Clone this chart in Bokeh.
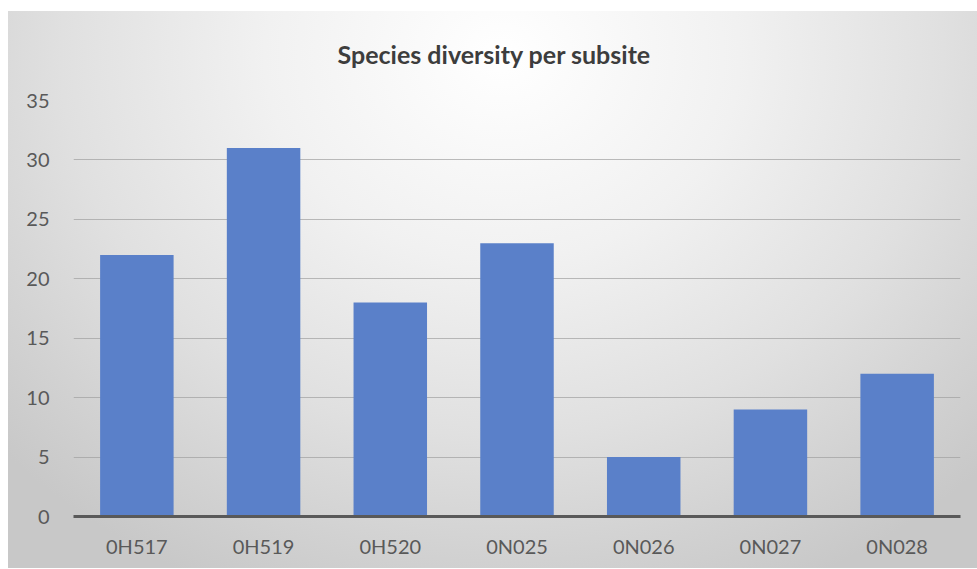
from bokeh.plotting import figure
from bokeh.models import Range1d, FactorRange, InlineStyleSheet, NumeralTickFormatter, FixedTicker
from bokeh.embed import file_html
from bokeh.resources import INLINE

# Number of species recorded at each subsite
subsites = ["0H517", "0H519", "0H520", "0N025", "0N026", "0N027", "0N028"]
species_counts = [22, 31, 18, 23, 5, 9, 12]
y_ticks = [0, 5, 10, 15, 20, 25, 30, 35]

FONT = "Lato"
TEXT_GREY = "#595959"

p = figure(
    x_range=FactorRange(*subsites, range_padding=0),
    y_range=Range1d(0, 35),
    width=969, height=568,
    output_backend="svg", toolbar_location=None,
    min_border_left=65, min_border_right=17,
    min_border_top=100, min_border_bottom=52,
    title="Species diversity per subsite",
)
p.margin = (0, 0, 0, 8)

# white strip on top, then a soft radial light behind the whole chart
p.background_fill_color = None
p.border_fill_color = None
p.outline_line_color = None
p.stylesheets = [InlineStyleSheet(css="""
:host {
  background:
    linear-gradient(#ffffff, #ffffff) 0 0 / 100% 11px no-repeat,
    radial-gradient(ellipse 70% 105% at 51% 8%,
      #ffffff 0%, #f1f1f1 35%, #e0e0e0 65%, #d2d2d2 85%, #c8c8c8 100%)
      0 11px / 100% calc(100% - 11px) no-repeat;
}
""")]

p.vbar(x=subsites, top=species_counts, width=0.58,
       fill_color="#5a80c9", line_color=None)

# title, placed from the left edge of the plot frame
p.title.text_font = FONT
p.title.text_font_style = "bold"
p.title.text_font_size = "25px"
p.title.text_color = "#3d3d3d"
p.title.align = "left"
p.title.offset = 264
p.title.standoff = 63

# y axis: labels only, horizontal gridlines
p.yaxis.ticker = FixedTicker(ticks=y_ticks)
p.yaxis.formatter = NumeralTickFormatter(format="0")
p.yaxis.axis_line_color = None
p.yaxis.major_tick_line_color = None
p.yaxis.minor_tick_line_color = None
p.yaxis.major_label_standoff = 18
p.yaxis.major_label_text_font = FONT
p.yaxis.major_label_text_font_size = "20px"
p.yaxis.major_label_text_color = TEXT_GREY

p.ygrid.ticker = FixedTicker(ticks=y_ticks)
p.ygrid.grid_line_color = "#a0a0a0"
p.ygrid.grid_line_alpha = 0.7
p.ygrid.grid_line_width = 1
p.xgrid.grid_line_color = None

# x axis: dark baseline and category labels
p.xaxis.axis_line_color = "#595959"
p.xaxis.axis_line_width = 3
p.xaxis.major_tick_line_color = None
p.xaxis.minor_tick_line_color = None
p.xaxis.major_label_standoff = 11
p.xaxis.major_label_text_font = FONT
p.xaxis.major_label_text_font_size = "20px"
p.xaxis.major_label_text_color = TEXT_GREY

open("out.html", "w").write(file_html(p, INLINE))
